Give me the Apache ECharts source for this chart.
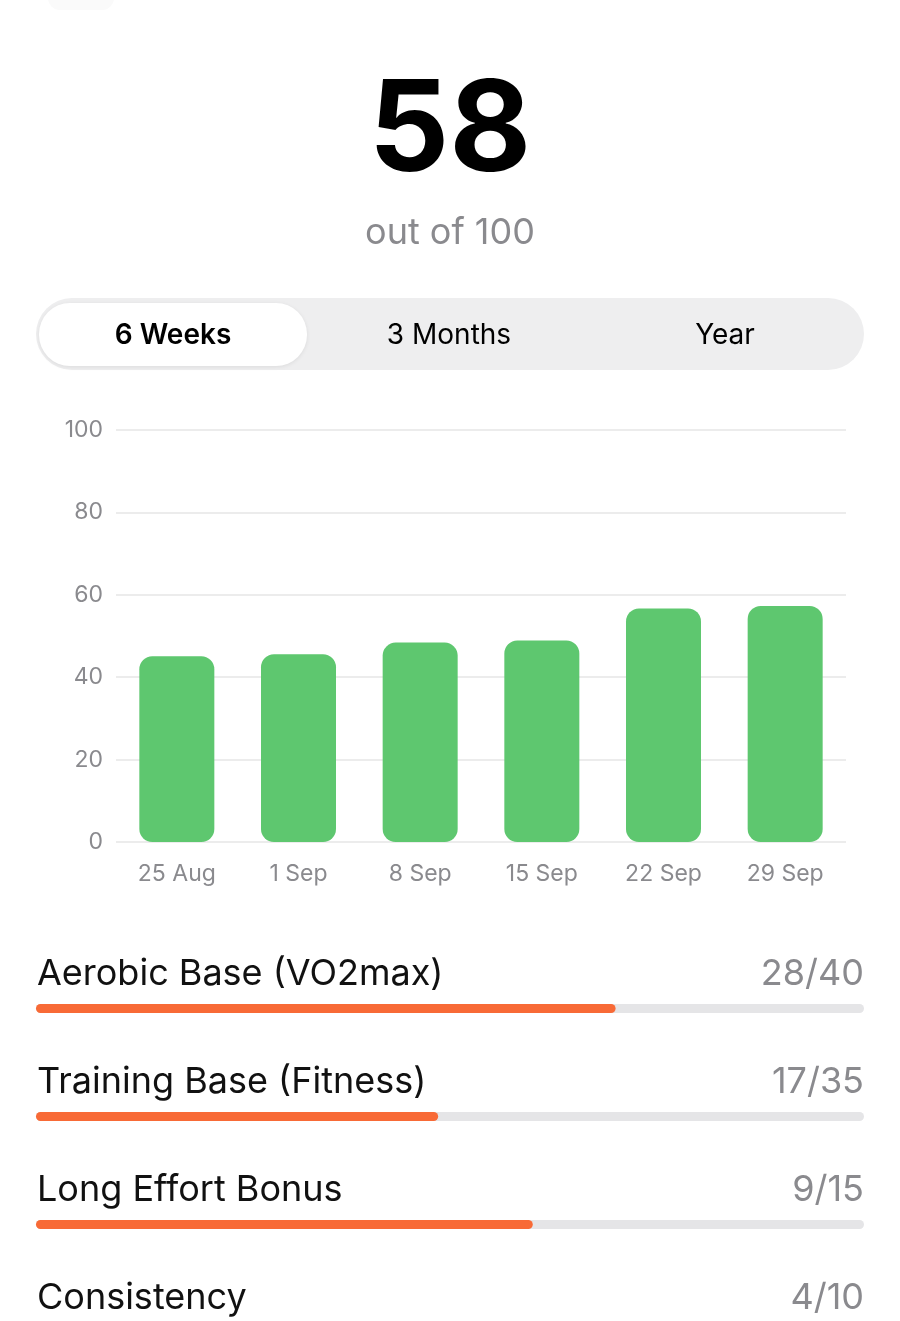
<!DOCTYPE html>
<html>
<head>
<meta charset="utf-8">
<script src="https://cdn.jsdelivr.net/npm/echarts@6/dist/echarts.min.js"></script>
<style>
html,body{margin:0;padding:0;background:#fff;}
#c{width:900px;height:1321px;}
</style>
</head>
<body>
<div id="c"></div>
<script>
// ---- data ----
const score = '58';
const scoreSub = 'out of 100';
const periods = ['6 Weeks', '3 Months', 'Year'];
const weeks = ['25 Aug', '1 Sep', '8 Sep', '15 Sep', '22 Sep', '29 Sep'];
const weeklyScores = [45.1, 45.6, 48.4, 48.9, 56.7, 57.3];
const yTicks = [0, 20, 40, 60, 80, 100];
const componentNames = ['Aerobic Base (VO2max)', 'Training Base (Fitness)', 'Long Effort Bonus', 'Consistency'];
const componentScores = [28, 17, 9, 4];
const componentMax = [40, 35, 15, 10];

// ---- layout ----
const FONT = 'Inter, "Liberation Sans", Arial, sans-serif';
const rowTop = [1004, 1112, 1220, 1328];
const barH = 9;

const chart = echarts.init(document.getElementById('c'));

const grids = [{ left: 116, right: 54, top: 430, height: 412 }];
const xAxes = [{
  type: 'category', gridIndex: 0, data: weeks,
  axisLine: { show: false }, axisTick: { show: false },
  axisLabel: { color: '#8a8a8e', fontSize: 23, fontFamily: FONT, margin: 21 }
}];
const yAxes = [{
  type: 'value', gridIndex: 0, min: yTicks[0], max: yTicks[yTicks.length - 1], interval: 20,
  axisLine: { show: false }, axisTick: { show: false },
  splitLine: { lineStyle: { color: '#e6e6e6', width: 1.5 } },
  axisLabel: { color: '#8a8a8e', fontSize: 23, fontFamily: FONT, margin: 13 }
}];
const series = [{
  type: 'bar', xAxisIndex: 0, yAxisIndex: 0, data: weeklyScores, barWidth: 75,
  itemStyle: { color: '#5ec76f', borderRadius: 13 }, silent: true
}];
const graphics = [];

componentNames.forEach((name, i) => {
  const gi = i + 1;
  grids.push({ left: 36, right: 36, top: rowTop[i], height: barH });
  xAxes.push({ type: 'value', gridIndex: gi, min: 0, max: componentMax[i], show: false });
  yAxes.push({ type: 'category', gridIndex: gi, data: [name], show: false });
  series.push({
    type: 'bar', xAxisIndex: gi, yAxisIndex: gi, data: [componentScores[i]], barWidth: barH,
    showBackground: true, backgroundStyle: { color: '#e5e5e7', borderRadius: barH / 2 },
    itemStyle: { color: '#f86a36', borderRadius: barH / 2 }, silent: true
  });
  graphics.push({
    type: 'text', left: 37, top: rowTop[i] - 48,
    style: { text: name, fontSize: 36, fontFamily: FONT, fill: '#111' }
  });
  graphics.push({
    type: 'text', right: 36, top: rowTop[i] - 48,
    style: { text: componentScores[i] + '/' + componentMax[i], fontSize: 36, fontFamily: FONT, fill: '#8a8a8e' }
  });
});

// header
graphics.push({ type: 'rect', shape: { x: 48, y: -14, width: 66, height: 24, r: 12 }, style: { fill: '#fafafa' } });
graphics.push({
  type: 'text', x: 450, y: 133,
  style: { text: score, fontSize: 126, fontWeight: 'bold', fontFamily: FONT, fill: '#000', align: 'center', verticalAlign: 'middle' }
});
graphics.push({
  type: 'text', x: 450, y: 233,
  style: { text: scoreSub, fontSize: 36, fontFamily: FONT, fill: '#8a8a8e', align: 'center', verticalAlign: 'middle' }
});
// segmented control
graphics.push({ type: 'rect', shape: { x: 36, y: 298, width: 828, height: 72, r: 36 }, style: { fill: '#eeeeef' } });
graphics.push({
  type: 'rect', shape: { x: 39, y: 303, width: 268, height: 63, r: 31 },
  style: { fill: '#ffffff', shadowBlur: 4, shadowColor: 'rgba(0,0,0,0.08)', shadowOffsetY: 1 }
});
const segCenters = [173, 449, 725];
periods.forEach((p, i) => {
  graphics.push({
    type: 'text', x: segCenters[i], y: 336,
    style: { text: p, fontSize: 28, fontWeight: i === 0 ? 600 : 'normal', fontFamily: FONT, fill: '#000', align: 'center', verticalAlign: 'middle' }
  });
});

chart.setOption({
  animation: false,
  grid: grids,
  xAxis: xAxes,
  yAxis: yAxes,
  series: series,
  graphic: graphics
});
</script>
</body>
</html>
